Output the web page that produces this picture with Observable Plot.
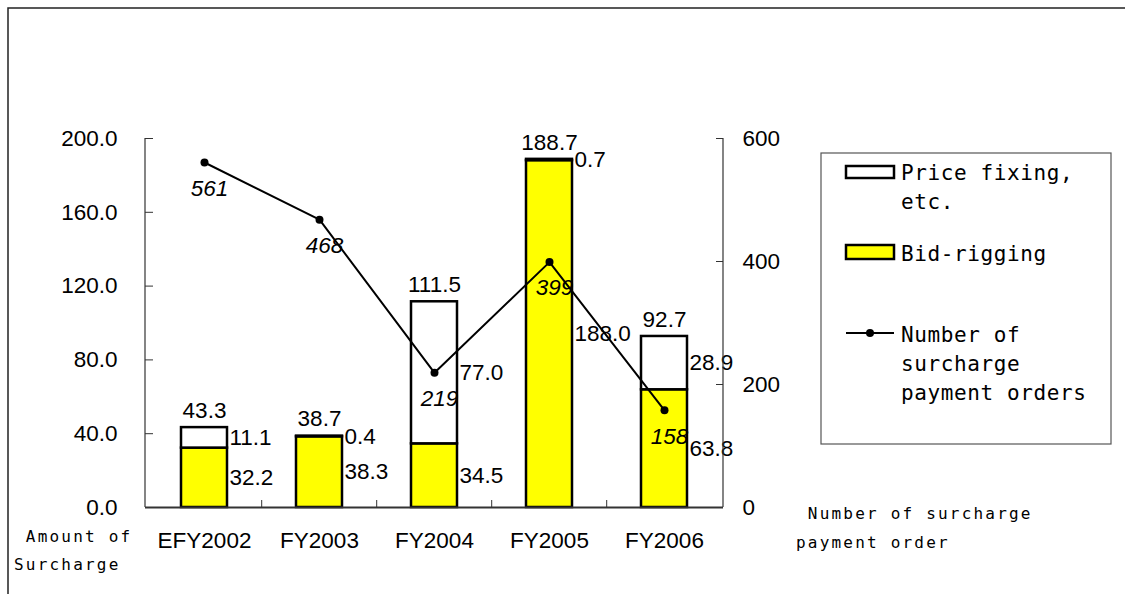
<!DOCTYPE html>
<html><head><meta charset="utf-8">
<script src="https://cdn.jsdelivr.net/npm/d3@7"></script>
<script src="https://cdn.jsdelivr.net/npm/@observablehq/plot@0.6"></script>
<style>html,body{margin:0;padding:0;background:#fff;} #chart{width:1125px;height:594px;overflow:hidden;}</style>
</head><body><div id="chart"></div>
<script>
// ---- data ----
const categories = ["EFY2002", "FY2003", "FY2004", "FY2005", "FY2006"];
const bidRigging = [32.2, 38.3, 34.5, 188.0, 63.8];
const priceFixing = [11.1, 0.4, 77.0, 0.7, 28.9];
const totals = [43.3, 38.7, 111.5, 188.7, 92.7];
const orders = [561, 468, 219, 399, 158];
const leftTicks = [0, 40, 80, 120, 160, 200];
const rightTicks = [0, 200, 400, 600];
const legendLabels = [["Price fixing,", "etc."], ["Bid-rigging"], ["Number of", "surcharge", "payment orders"]];
const leftCaption = [" Amount of", "Surcharge"];
const rightCaption = [" Number of surcharge", "payment order"];

// ---- layout ----
const W = 1125, H = 594;
const mL = 145, mR = 402, mT = 138, mB = 87;
const frameW = W - mL - mR, frameH = H - mT - mB;
const RATIO = rightTicks[rightTicks.length - 1] / leftTicks[leftTicks.length - 1];
const step = frameW / categories.length;
const NUM_FONT = "'Liberation Sans', Arial, sans-serif";
const CAP_FONT = "'DejaVu Sans Mono', 'Liberation Mono', monospace";
const FS = 22.5;

const rows = categories.map((c, i) => ({
  cat: c, bid: bidRigging[i], price: priceFixing[i], total: totals[i], orders: orders[i]
}));

const plot = Plot.plot({
  width: W, height: H,
  marginLeft: mL, marginRight: mR, marginTop: mT, marginBottom: mB,
  style: {fontFamily: NUM_FONT, fontSize: FS + "px", background: "transparent", color: "#000"},
  x: {domain: categories, paddingInner: 0.6, paddingOuter: 0.3, axis: null},
  y: {domain: [0, 200], axis: null},
  marks: [
    Plot.barY(rows, {x: "cat", y1: 0, y2: "bid", fill: "#ffff00", stroke: "#000", strokeWidth: 2.5}),
    Plot.barY(rows, {x: "cat", y1: "bid", y2: d => d.bid + d.price, fill: "#ffffff", stroke: "#000", strokeWidth: 2.5}),
    Plot.ruleY([0], {stroke: "#333", strokeWidth: 2}),
    Plot.tickY(leftTicks, {y: d => d, insetRight: frameW - 8, stroke: "#333"}),
    Plot.tickY(rightTicks.map(v => v / RATIO), {y: d => d, insetLeft: frameW - 7, stroke: "#333"}),
    Plot.tickX(categories.slice(1), {x: d => d, dx: -step / 2, insetTop: frameH - 7, stroke: "#333"}),
    Plot.axisY(leftTicks, {anchor: "left", tickSize: 0, tickPadding: 28, tickFormat: d3.format(".1f"), fontSize: FS, label: null}),
    Plot.axisY(rightTicks.map(v => v / RATIO), {anchor: "right", tickSize: 0, tickPadding: 19, tickFormat: d => String(Math.round(d * RATIO)), fontSize: FS, label: null}),
    Plot.axisX({tickSize: 0, tickPadding: 25, fontSize: FS, label: null}),
    Plot.line(rows, {x: "cat", y: d => d.orders / RATIO, stroke: "#000", strokeWidth: 2}),
    Plot.dot(rows, {x: "cat", y: d => d.orders / RATIO, r: 4, fill: "#000"}),
    Plot.text(rows, {x: "cat", y: "total", text: d => d.total.toFixed(1), dy: -17, fontSize: FS, fill: "#000"}),
    Plot.text(rows, {x: "cat", y: d => d.bid / 2, text: d => d.bid.toFixed(1), dx: 25, textAnchor: "start", fontSize: FS, fill: "#000"}),
    Plot.text(rows, {x: "cat", y: d => d.bid + d.price / 2, text: d => d.price.toFixed(1), dx: 25, textAnchor: "start", fontSize: FS, fill: "#000"}),
    Plot.text(rows, {x: "cat", y: d => d.orders / RATIO, text: d => String(d.orders), dx: 5, dy: 26, fontSize: FS, fontStyle: "italic", fill: "#000"})
  ]
});

const svg = d3.select(plot);
// axis lines
svg.append("line").attr("x1", mL).attr("x2", mL).attr("y1", mT).attr("y2", H - mB).attr("stroke", "#333").attr("stroke-width", 1.2);
svg.append("line").attr("x1", W - mR).attr("x2", W - mR).attr("y1", mT).attr("y2", H - mB).attr("stroke", "#333").attr("stroke-width", 1.2);
// outer frame
svg.append("rect").attr("x", 8).attr("y", 8).attr("width", 1200).attr("height", 700)
  .attr("fill", "none").attr("stroke", "#222").attr("stroke-width", 1.5);

// captions
const cap = (lines, x, y0, lh) => {
  const t = svg.append("text").attr("font-family", CAP_FONT).attr("font-size", 16)
    .attr("text-anchor", "start")
    .attr("letter-spacing", "2.2px").attr("fill", "#000").style("white-space", "pre");
  lines.forEach((s, i) => t.append("tspan").attr("x", x).attr("y", y0 + i * lh).text(s));
};
cap(leftCaption, 14, 542, 28);
cap(rightCaption, 796, 519, 29);

// legend
const lg = svg.append("g");
lg.append("rect").attr("x", 821).attr("y", 153).attr("width", 290).attr("height", 291)
  .attr("fill", "#fff").attr("stroke", "#555").attr("stroke-width", 1.2);
lg.append("rect").attr("x", 846).attr("y", 166).attr("width", 48).attr("height", 12)
  .attr("fill", "#fff").attr("stroke", "#000").attr("stroke-width", 2.5);
lg.append("rect").attr("x", 846).attr("y", 245).attr("width", 48).attr("height", 14)
  .attr("fill", "#ffff00").attr("stroke", "#000").attr("stroke-width", 2.5);
lg.append("line").attr("x1", 846).attr("x2", 894).attr("y1", 333).attr("y2", 333).attr("stroke", "#000").attr("stroke-width", 2);
lg.append("circle").attr("cx", 870).attr("cy", 333).attr("r", 4).attr("fill", "#000");
const legText = (lines, y0) => {
  const t = lg.append("text").attr("font-family", CAP_FONT).attr("font-size", 21)
    .attr("text-anchor", "start")
    .attr("letter-spacing", "0.6px").attr("fill", "#000");
  lines.forEach((s, i) => t.append("tspan").attr("x", 901).attr("y", y0 + i * 29).text(s));
};
legText(legendLabels[0], 180);
legText(legendLabels[1], 261);
legText(legendLabels[2], 342);

document.getElementById("chart").appendChild(plot);
</script>
</body></html>
